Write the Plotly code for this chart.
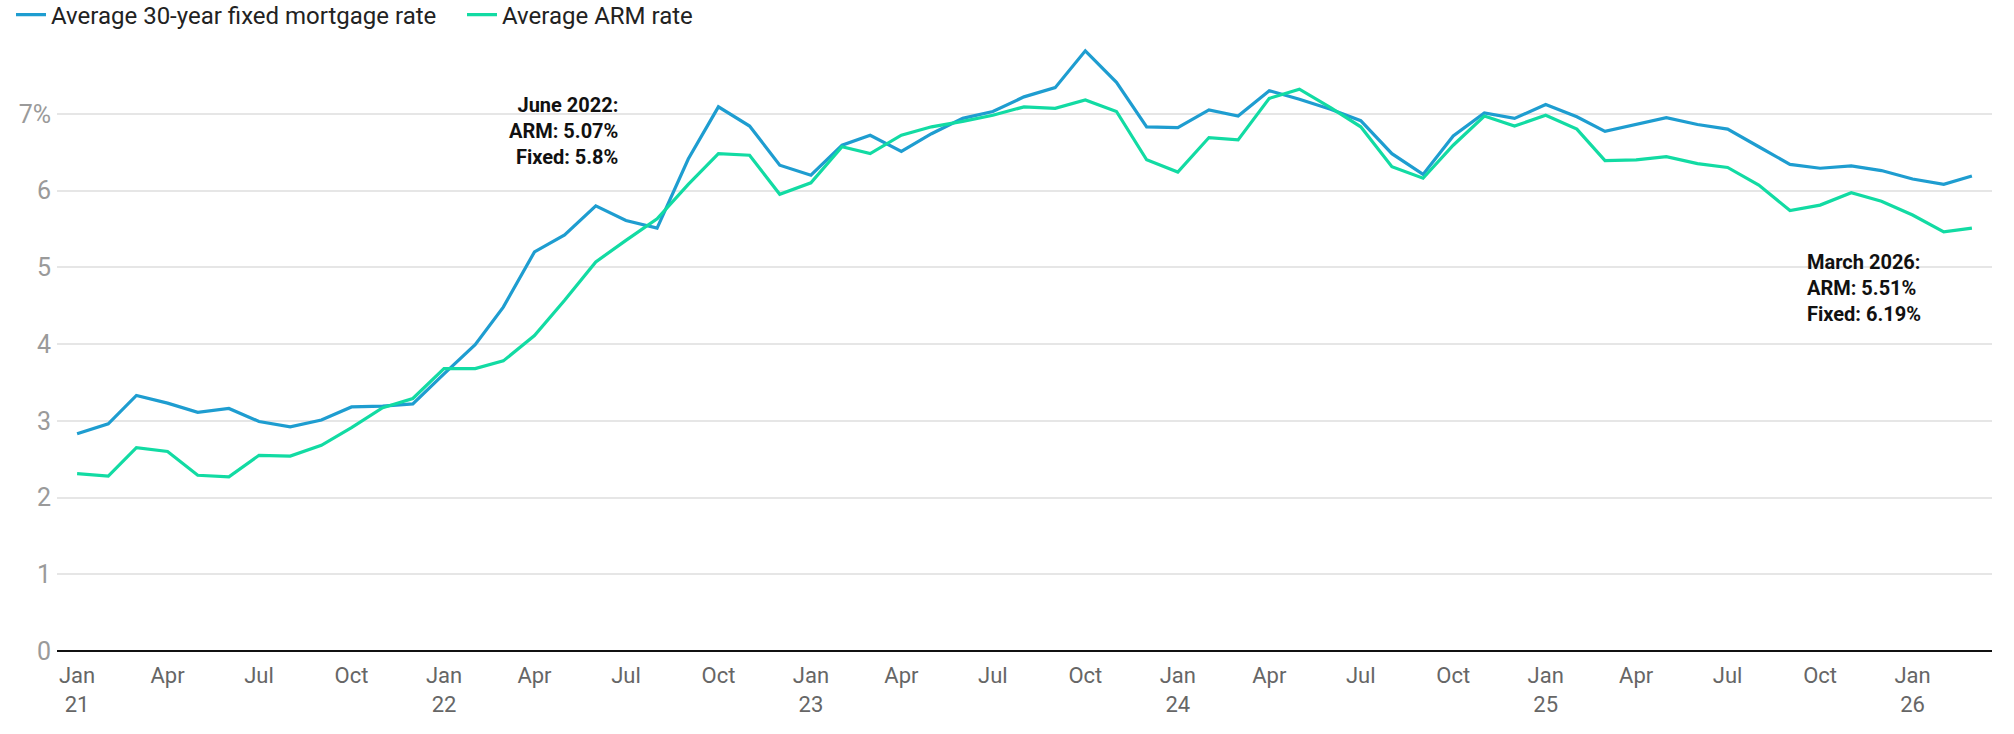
import plotly.graph_objects as go
import pandas as pd

months = pd.date_range("2021-01-01", "2026-03-01", freq="MS")

fixed_rate = [
    2.83, 2.96, 3.33, 3.23, 3.11, 3.16, 2.99, 2.92, 3.01, 3.18, 3.19, 3.22,
    3.61, 3.99, 4.48, 5.20, 5.42, 5.80, 5.61, 5.51, 6.41, 7.09, 6.84, 6.33,
    6.20, 6.59, 6.72, 6.51, 6.74, 6.94, 7.03, 7.22, 7.34, 7.82, 7.41, 6.83,
    6.82, 7.05, 6.97, 7.30, 7.19, 7.06, 6.91, 6.48, 6.21, 6.71, 7.01, 6.94,
    7.12, 6.96, 6.77, 6.86, 6.95, 6.86, 6.80, 6.57, 6.34, 6.29, 6.32, 6.26,
    6.15, 6.08, 6.19,
]
arm_rate = [
    2.31, 2.28, 2.65, 2.60, 2.29, 2.27, 2.55, 2.54, 2.68, 2.91, 3.17, 3.29,
    3.68, 3.68, 3.78, 4.11, 4.57, 5.07, 5.35, 5.63, 6.08, 6.48, 6.46, 5.95,
    6.10, 6.57, 6.48, 6.72, 6.83, 6.90, 6.98, 7.09, 7.07, 7.18, 7.03, 6.40,
    6.24, 6.69, 6.66, 7.20, 7.32, 7.08, 6.83, 6.31, 6.16, 6.59, 6.97, 6.84,
    6.98, 6.80, 6.39, 6.40, 6.44, 6.35, 6.30, 6.07, 5.74, 5.81, 5.97, 5.86,
    5.68, 5.46, 5.51,
]

x_tick_vals = pd.date_range("2021-01-01", "2026-01-01", freq="QS")
x_tick_text = []
for d in x_tick_vals:
    if d.month == 1:
        x_tick_text.append(d.strftime("%b") + "<br>" + d.strftime("%y"))
    else:
        x_tick_text.append(d.strftime("%b"))

y_tick_vals = [0, 1, 2, 3, 4, 5, 6, 7]
y_tick_text = ["0", "1", "2", "3", "4", "5", "6", "7%"]

BLUE = "#1e9dd0"
GREEN = "#12dba3"

W, H = 2014, 734
ML, MR, MT, MB = 0, 22, 0, 83
PW, PH = W - ML - MR, H - MT - MB

fig = go.Figure()
fig.add_trace(go.Scatter(x=months, y=fixed_rate, mode="lines",
                         name="Average 30-year fixed mortgage rate",
                         line=dict(color=BLUE, width=3.2)))
fig.add_trace(go.Scatter(x=months, y=arm_rate, mode="lines",
                         name="Average ARM rate",
                         line=dict(color=GREEN, width=3.2)))

fig.add_annotation(x="2022-06-01", y=7.29, xref="x", yref="y",
                   text="<b>June 2022:<br>ARM: 5.07%<br>Fixed: 5.8%</b>",
                   showarrow=False, xanchor="right", yanchor="top", align="right",
                   xshift=24, font=dict(family="Roboto", size=20, color="#111"))
fig.add_annotation(x="2025-09-16", y=5.25, xref="x", yref="y",
                   text="<b>March 2026:<br>ARM: 5.51%<br>Fixed: 6.19%</b>",
                   showarrow=False, xanchor="left", yanchor="top", align="left",
                   font=dict(family="Roboto", size=20, color="#111"))

fig.update_layout(
    width=W, height=H,
    margin=dict(l=ML, r=MR, t=MT, b=MB, autoexpand=False),
    paper_bgcolor="white", plot_bgcolor="white",
    font=dict(family="Roboto", color="#222"),
    showlegend=True,
    legend=dict(orientation="h", x=11 / PW, y=1 - 15 / PH,
                xanchor="left", yanchor="middle",
                font=dict(size=24, color="#222"),
                entrywidth=406, entrywidthmode="pixels"),
    xaxis=dict(type="date", range=["2020-12-12", "2026-03-21"],
               domain=[57 / PW, 1],
               tickvals=x_tick_vals, ticktext=x_tick_text,
               showgrid=False, zeroline=False, showline=False,
               tickfont=dict(size=22, color="#666"), ticks="",
               ticklabelstandoff=9),
    yaxis=dict(range=[0, 8], domain=[0, 614 / PH],
               tickvals=y_tick_vals, ticktext=y_tick_text,
               showgrid=True, gridcolor="#e6e6e6", gridwidth=1.5,
               zeroline=True, zerolinecolor="#111", zerolinewidth=2.3,
               tickfont=dict(size=25, color="#9a9a9a"), ticks="",
               ticklabelstandoff=5),
)

fig.write_html("out.html", config={"displayModeBar": False},
               post_script="document.body.style.margin='0';")
